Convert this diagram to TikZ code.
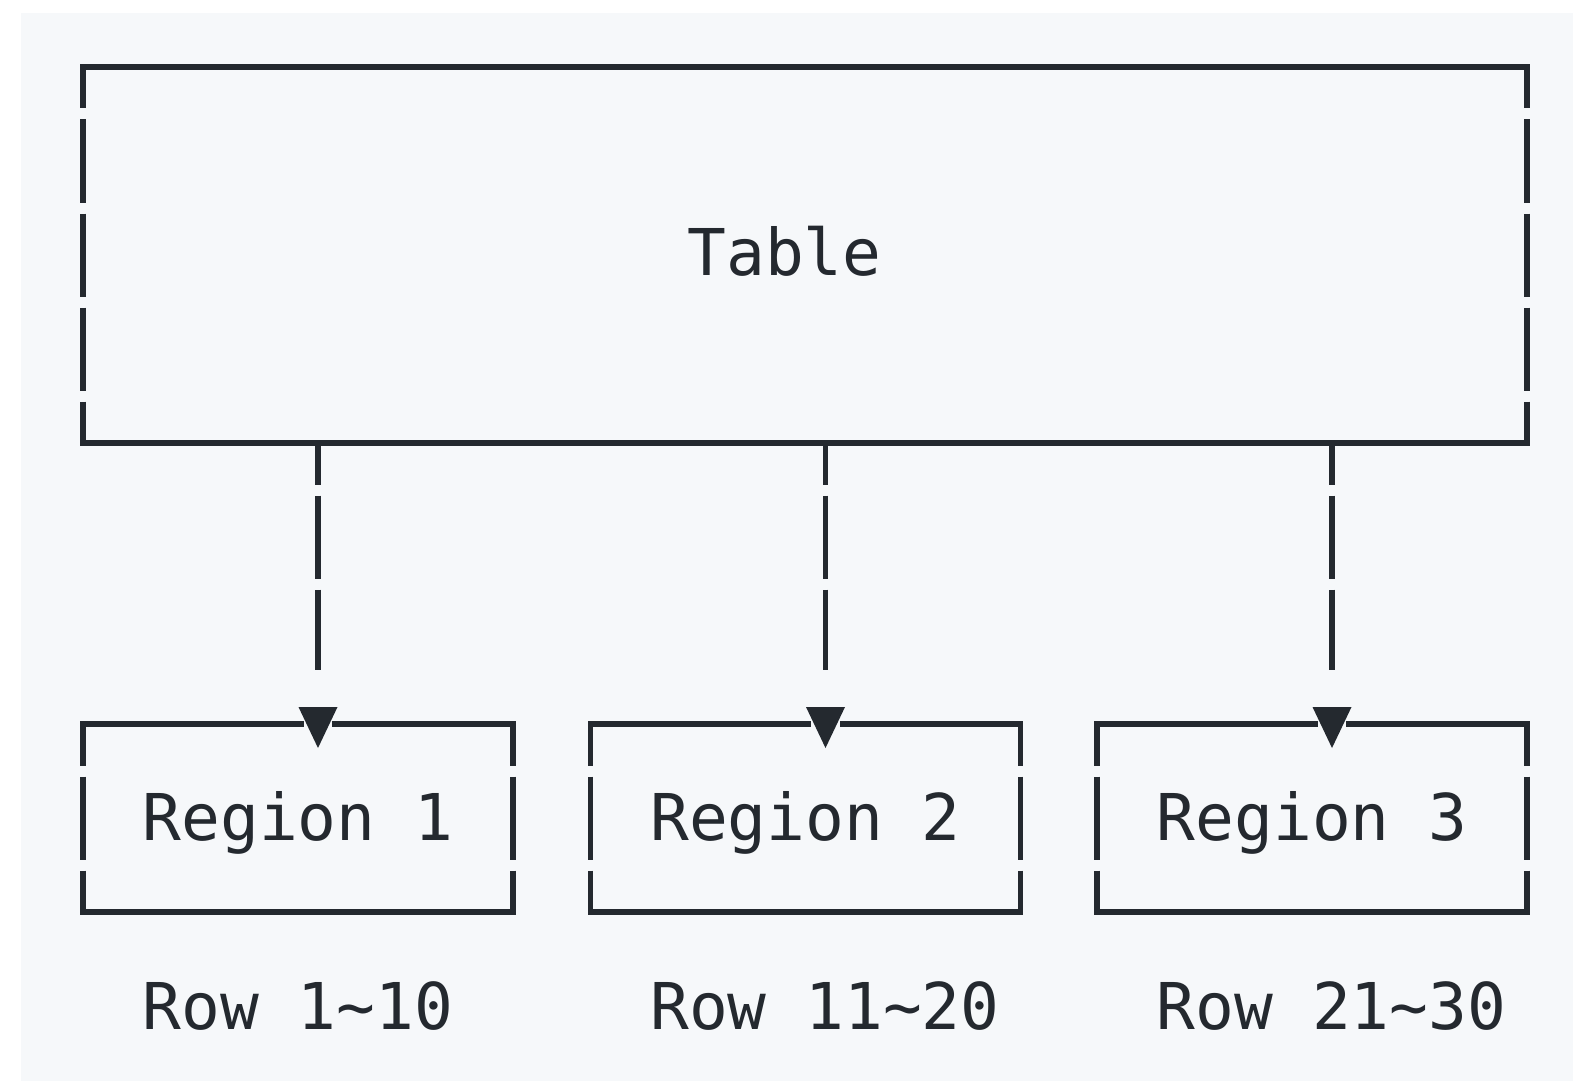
\documentclass[tikz,border=0pt]{standalone}
\usepackage{fontspec}
\setmonofont{DejaVu Sans Mono}
\usetikzlibrary{calc}
\definecolor{inkc}{HTML}{24292F}
\definecolor{paperc}{HTML}{F6F8FA}
\tikzset{every picture/.style={line width=2.6pt}}
\tikzset{
  hline/.style={draw=inkc, line cap=rect},
  vline/.style={draw=inkc, dash pattern=on 41.5pt off 5.5pt, dash phase=20.75pt},
  lbl/.style={inner sep=0pt, text=inkc, font=\ttfamily\fontsize{32.25}{38}\selectfont},
  frame/.style={inner sep=0pt, outer sep=0pt},
}
\begin{document}
\begin{tikzpicture}[x=0.5pt,y=0.5pt,yscale=-1]
\useasboundingbox (0,0) rectangle (1573,1086);
%Shape: Background
\fill[paperc] (21,13) rectangle (1573,1081);

%Shape: Table box
\node[frame, minimum width=722pt, minimum height=188pt] (tbl) at (805,255) {};
\draw[hline] (tbl.north west) -- (tbl.north east) (tbl.south west) -- (tbl.south east);
\draw[vline] (tbl.north west) -- (tbl.south west);
\draw[vline] (tbl.north east) -- (tbl.south east);
% Text Node
\node[lbl, anchor=base] (tbltxt) at (784.5,275) {Table};

\foreach \i/\cx/\rng in {1/298/1\textasciitilde 10, 2/805.5/11\textasciitilde 20, 3/1312/21\textasciitilde 30}{
  %Shape: Region box
  \node[frame, minimum width=215pt, minimum height=94pt] (reg\i) at (\cx,818) {};
  \coordinate (a\i) at ($(reg\i.north west)+(235,0)$);
  \coordinate (e\i) at ($(a\i)+(0,-54)$);
  \draw[hline] (reg\i.north west) -- ($(a\i)+(-17,0)$) ($(a\i)+(17,0)$) -- (reg\i.north east);
  \draw[hline] (reg\i.south west) -- (reg\i.south east);
  \draw[vline] (reg\i.north west) -- (reg\i.south west);
  \draw[vline] (reg\i.north east) -- (reg\i.south east);
  %Straight Lines: link
  \draw[vline] (tbl.south -| a\i) -- (e\i);
  \fill[inkc] ($(a\i)+(-19.5,-17)$) -- ($(a\i)+(19.5,-17)$) -- ($(a\i)+(0,24)$) -- cycle;
  % Text Node
  \node[lbl, anchor=base] (regtxt\i) at ($(reg\i.center)+(0,22)$) {Region \i};
  % Text Node
  \node[lbl, anchor=base west] (rows\i) at ($(regtxt\i.base west)+(0,189)$) {Row \rng};
}
\end{tikzpicture}
\end{document}
